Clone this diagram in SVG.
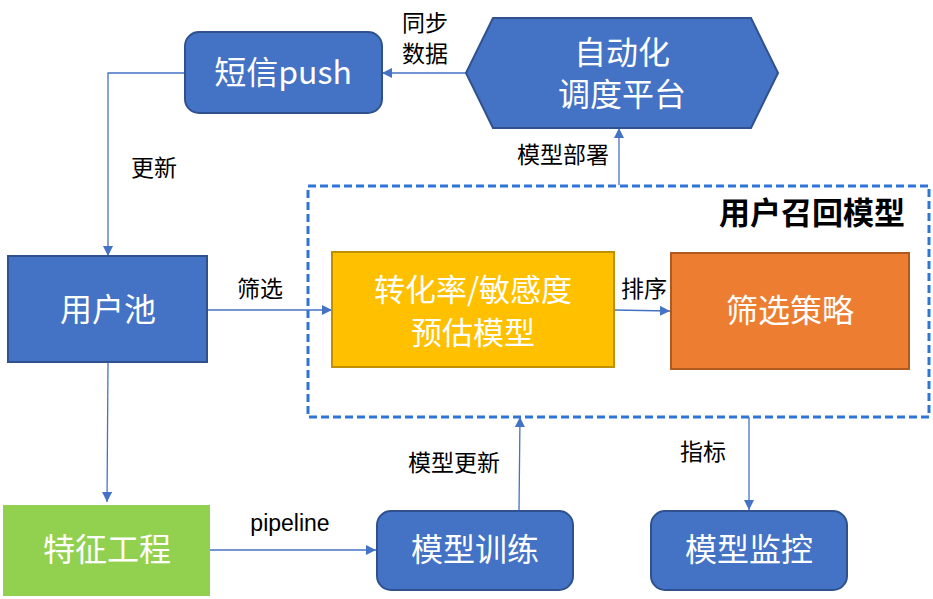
<svg xmlns="http://www.w3.org/2000/svg" width="933" height="599" viewBox="0 0 933 599">
<style>
.blue{fill:#4472C4;stroke:#2F528F;stroke-width:2}
.nt{font-family:"Noto Sans CJK SC","Liberation Sans",sans-serif;font-size:32px;fill:#fff;text-anchor:middle}
.lb{font-family:"Noto Sans CJK SC","Liberation Sans",sans-serif;font-size:23px;fill:#000;text-anchor:middle}
.ln{stroke:#4472C4;stroke-width:1.3;fill:none;marker-end:url(#ah)}
</style>
<defs>
<marker id="ah" viewBox="0 0 10 10" refX="10" refY="5" markerWidth="10" markerHeight="10" markerUnits="userSpaceOnUse" orient="auto">
<path d="M0,0 L10,5 L0,10 z" fill="#4472C4"/>
</marker>
</defs>
<rect width="933" height="599" fill="#fff"/>
<g id="recall-group">
<rect x="308" y="186" width="621" height="231" fill="none" stroke="#2E75D6" stroke-width="3" stroke-dasharray="8,4"/>
<text x="905" y="224" font-family="'Noto Sans CJK SC','Liberation Sans',sans-serif" font-size="31" font-weight="bold" text-anchor="end" fill="#000">用户召回模型</text>
</g>
<g id="connectors">
<path class="ln" d="M466,73 L382,73"/>
<path class="ln" d="M185,73 L108,73 L108,256"/>
<path class="ln" d="M108,362 L107,502"/>
<path class="ln" d="M207,310 L332,310"/>
<path class="ln" d="M614,310 L670,311"/>
<path class="ln" d="M210,550 L376,550"/>
<path class="ln" d="M519,510 L520,417"/>
<path class="ln" d="M619,185 L619,128"/>
<path class="ln" d="M749,417 L749,510"/>
<text class="lb" x="425" y="31">同步</text>
<text class="lb" x="425" y="62">数据</text>
<text class="lb" x="154" y="176">更新</text>
<text class="lb" x="260" y="297">筛选</text>
<text class="lb" x="644" y="297">排序</text>
<text class="lb" x="563" y="163">模型部署</text>
<text class="lb" x="454" y="471">模型更新</text>
<text class="lb" x="703" y="460">指标</text>
<text x="290" y="531" font-family="'Liberation Sans',sans-serif" font-size="23" text-anchor="middle" fill="#000">pipeline</text>
</g>
<g id="sms-push">
<rect class="blue" x="185" y="32" width="197" height="81" rx="14"/>
<text class="nt" x="283" y="84">短信push</text>
</g>
<g id="scheduler">
<polygon class="blue" points="466,73 493,18 751,18 778,73 751,128 493,128"/>
<text class="nt" x="622" y="64">自动化</text>
<text class="nt" x="622" y="106">调度平台</text>
</g>
<g id="user-pool">
<rect class="blue" x="8" y="256" width="199" height="106"/>
<text class="nt" x="108" y="321">用户池</text>
</g>
<g id="estimate-model">
<rect x="332" y="252" width="282" height="115" fill="#FFC000" stroke="#BF9000" stroke-width="2"/>
<text class="nt" x="473" y="301" style="font-size:31px">转化率/敏感度</text>
<text class="nt" x="473" y="344" style="font-size:31px">预估模型</text>
</g>
<g id="strategy">
<rect x="671" y="253" width="238" height="116" fill="#ED7D31" stroke="#AE5A21" stroke-width="2"/>
<text class="nt" x="790" y="322">筛选策略</text>
</g>
<g id="feature-eng">
<rect x="3" y="505" width="207" height="91" fill="#92D050"/>
<text class="nt" x="107" y="561">特征工程</text>
</g>
<g id="model-train">
<rect class="blue" x="377" y="511" width="196" height="79" rx="14"/>
<text class="nt" x="475" y="561">模型训练</text>
</g>
<g id="model-monitor">
<rect class="blue" x="651" y="511" width="196" height="79" rx="14"/>
<text class="nt" x="749" y="561">模型监控</text>
</g>
</svg>
